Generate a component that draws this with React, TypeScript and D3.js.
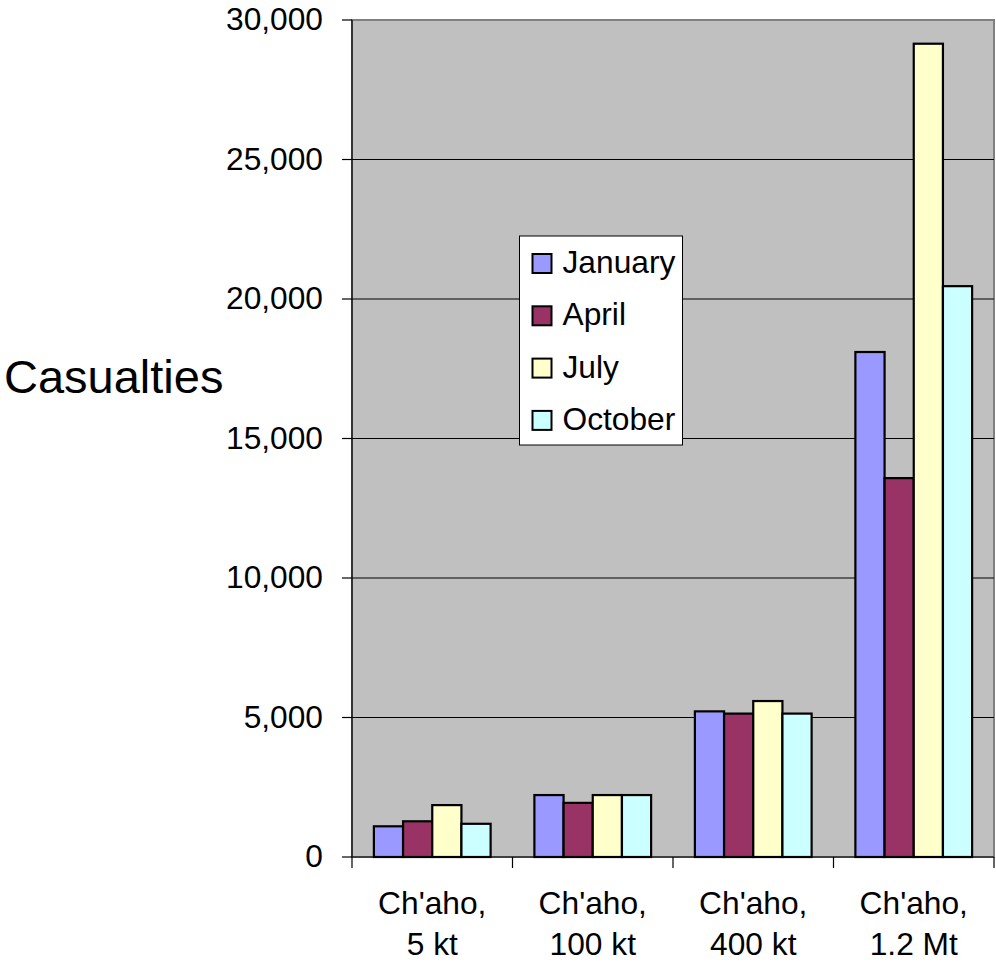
import React from "react";
import * as d3 from "d3";

// Casualty estimates by weapon yield and month
const categories = ["Ch'aho,|5 kt", "Ch'aho,|100 kt", "Ch'aho,|400 kt", "Ch'aho,|1.2 Mt"];
const seriesNames = ["January", "April", "July", "October"];
const january = [1100, 2220, 5220, 18100];
const april = [1280, 1940, 5140, 13580];
const july = [1860, 2220, 5590, 29150];
const october = [1190, 2220, 5140, 20460];
const seriesColors = ["#9999FF", "#993366", "#FFFFCC", "#CCFFFF"];
const yTicks = [0, 5000, 10000, 15000, 20000, 25000, 30000];

const seriesValues = [january, april, july, october];

const W = 996;
const H = 963;
const plot = { left: 352, right: 994, top: 20, bottom: 857 };
const FONT = "'Liberation Sans', Arial, Helvetica, sans-serif";
const SX = 1.04; // slight horizontal widening of the text glyphs

// Text placed at (x, y) and widened horizontally around its anchor
function Label(props: {
  x: number;
  y: number;
  size: number;
  sx?: number;
  anchor?: "start" | "middle" | "end";
  children: React.ReactNode;
}) {
  const sx = props.sx ?? SX;
  return (
    <text
      transform={`translate(${props.x},${props.y}) scale(${sx},1)`}
      textAnchor={props.anchor || "start"}
      fontSize={props.size}
      fill="#000"
    >
      {props.children}
    </text>
  );
}

export default function App() {
  const y = d3.scaleLinear().domain([0, 30000]).range([plot.bottom, plot.top]);
  const x0 = d3.scaleBand<string>().domain(categories).range([plot.left, plot.right]).padding(0);
  const x1 = d3
    .scaleBand<string>()
    .domain(seriesNames)
    .range([0, x0.bandwidth()])
    .paddingInner(0)
    .paddingOuter(0.75);
  const fmt = d3.format(",");

  const legend = { x: 519.5, y: 236, w: 163, h: 209, step: 52.3 };

  return (
    <svg
      width={W}
      height={H}
      style={{ position: "absolute", left: 0, top: 0, background: "#fff" }}
      fontFamily={FONT}
    >
      {/* plot background */}
      <rect
        x={plot.left}
        y={plot.top}
        width={plot.right - plot.left}
        height={plot.bottom - plot.top}
        fill="#C0C0C0"
        stroke="#808080"
        strokeWidth={2}
      />
      {/* horizontal gridlines */}
      {yTicks
        .filter((t) => t > 0 && t < 30000)
        .map((t) => (
          <line key={t} x1={plot.left} x2={plot.right} y1={y(t)} y2={y(t)} stroke="#000" strokeWidth={1.2} />
        ))}

      {/* bars */}
      {categories.map((c, ci) => (
        <g key={c} transform={`translate(${x0(c)},0)`}>
          {seriesNames.map((s, si) => {
            const v = seriesValues[si][ci];
            return (
              <rect
                key={s}
                x={x1(s)}
                y={y(v)}
                width={x1.bandwidth()}
                height={y(0) - y(v)}
                fill={seriesColors[si]}
                stroke="#000"
                strokeWidth={2.2}
              />
            );
          })}
        </g>
      ))}

      {/* y axis */}
      <line x1={plot.left} x2={plot.left} y1={plot.top} y2={plot.bottom} stroke="#000" strokeWidth={1.2} />
      {yTicks.map((t) => (
        <g key={t}>
          <line x1={plot.left - 10} x2={plot.left} y1={y(t)} y2={y(t)} stroke="#000" strokeWidth={1.2} />
          <Label x={323} y={y(t) + 10} size={30.5} anchor="end">
            {fmt(t)}
          </Label>
        </g>
      ))}

      {/* x axis */}
      <line x1={plot.left} x2={plot.right} y1={plot.bottom} y2={plot.bottom} stroke="#000" strokeWidth={1.2} />
      {[...categories.map((c) => x0(c) as number), plot.right].map((xv, i) => (
        <line key={i} x1={xv} x2={xv} y1={plot.bottom} y2={plot.bottom + 11} stroke="#000" strokeWidth={1.2} />
      ))}
      {categories.map((c) => {
        const cx = (x0(c) as number) + x0.bandwidth() / 2;
        const lines = c.split("|");
        return (
          <g key={c}>
            <Label x={cx} y={914} size={30.5} anchor="middle">
              {lines[0]}
            </Label>
            <Label x={cx} y={955} size={30.5} anchor="middle">
              {lines[1]}
            </Label>
          </g>
        );
      })}

      {/* axis title */}
      <Label x={4} y={393} size={47} sx={1}>
        Casualties
      </Label>

      {/* legend */}
      <rect x={legend.x} y={legend.y} width={legend.w} height={legend.h} fill="#fff" stroke="#000" strokeWidth={1} />
      {seriesNames.map((s, i) => (
        <g key={s} transform={`translate(${legend.x}, ${legend.y + 17 + i * legend.step})`}>
          <rect x={13} y={1} width={19} height={19} fill={seriesColors[i]} stroke="#000" strokeWidth={2} />
          <Label x={43} y={20} size={30.5}>
            {s}
          </Label>
        </g>
      ))}
    </svg>
  );
}
